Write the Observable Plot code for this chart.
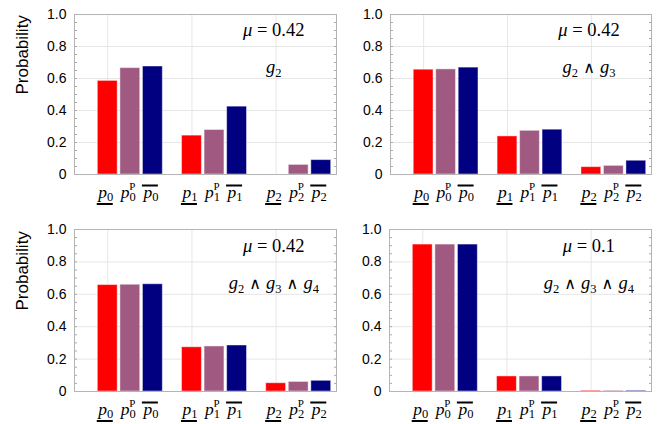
<!DOCTYPE html>
<html>
<head>
<meta charset="utf-8">
<script src="https://cdn.jsdelivr.net/npm/d3@7"></script>
<script src="https://cdn.jsdelivr.net/npm/@observablehq/plot@0.6"></script>
<style>
  body { margin: 0; background: #fff; }
  #chart { position: relative; width: 657px; height: 424px; overflow: hidden; }
</style>
</head>
<body>
<div id="chart"></div>
<script>
// ---------- data ----------
const groups = ["0", "1", "2"];                 // subscript of p
const seriesKeys = ["lower", "P", "upper"];     // p_, p^P, p‾
const seriesColors = ["#ff0000", "#a05a82", "#000080"];
const muLabels = ["0.42", "0.42", "0.42", "0.1"];
const constraintLabels = [["2"], ["2", "3"], ["2", "3", "4"], ["2", "3", "4"]];
const yTicks = [0, 0.2, 0.4, 0.6, 0.8, 1.0];
const yTickLabels = ["0", "0.2", "0.4", "0.6", "0.8", "1.0"];
const yLabel = "Probability";

// panel A: mu = 0.42, g2
const panelA_lower = [0.585, 0.243, 0];
const panelA_P     = [0.665, 0.278, 0.060];
const panelA_upper = [0.675, 0.424, 0.090];
// panel B: mu = 0.42, g2 ∧ g3
const panelB_lower = [0.655, 0.238, 0.046];
const panelB_P     = [0.657, 0.273, 0.054];
const panelB_upper = [0.668, 0.280, 0.086];
// panel C: mu = 0.42, g2 ∧ g3 ∧ g4
const panelC_lower = [0.657, 0.273, 0.051];
const panelC_P     = [0.659, 0.278, 0.059];
const panelC_upper = [0.662, 0.284, 0.066];
// panel D: mu = 0.1, g2 ∧ g3 ∧ g4
const panelD_lower = [0.907, 0.093, 0.004];
const panelD_P     = [0.907, 0.093, 0.004];
const panelD_upper = [0.907, 0.093, 0.004];

// ---------- layout ----------
const X_DOMAIN = [-0.277, 2.835];
const BAR_STEP = 0.268, BAR_W = 0.236;
const ANN_X = 2.09;
const SERIF = "Liberation Serif";
const SANS = "Liberation Sans";

const panels = [
  {vals: [panelA_lower, panelA_P, panelA_upper], mu: muLabels[0], cons: constraintLabels[0],
   left: 0, top: 0, width: 338, height: 212, mL: 74, mR: 2, mT: 14, mB: 38, ylab: true},
  {vals: [panelB_lower, panelB_P, panelB_upper], mu: muLabels[1], cons: constraintLabels[1],
   left: 338, top: 0, width: 319, height: 212, mL: 52, mR: 6, mT: 14, mB: 38, ylab: false},
  {vals: [panelC_lower, panelC_P, panelC_upper], mu: muLabels[2], cons: constraintLabels[2],
   left: 0, top: 212, width: 338, height: 212, mL: 74, mR: 2, mT: 17, mB: 33, ylab: true},
  {vals: [panelD_lower, panelD_P, panelD_upper], mu: muLabels[3], cons: constraintLabels[3],
   left: 338, top: 212, width: 319, height: 212, mL: 51, mR: 6, mT: 17, mB: 33, ylab: false}
];

function setRich(el, parts, subShift = 4) {
  const t = d3.select(el);
  t.text(null);
  let shift = 0;
  for (const p of parts) {
    const ts = t.append("tspan").text(p.t);
    const target = p.sub ? subShift : p.sup ? -8 : 0;
    if (target !== shift) ts.attr("dy", target - shift);
    shift = target;
    if (p.sub || p.sup) ts.attr("font-size", p.sup ? 11 : 12.5).attr("font-style", "normal");
    if (p.it) ts.attr("font-style", "italic");
    if (p.dx) ts.attr("dx", p.dx);
    if (p.op) ts.attr("font-family", "DejaVu Sans").attr("font-size", 16);
  }
}

const chart = document.getElementById("chart");

for (const P of panels) {
  const data = [];
  groups.forEach((g, gi) => seriesKeys.forEach((s, si) =>
    data.push({g, gi, s, si, v: P.vals[si][gi]})));
  const x0 = d => d.gi + d.si * BAR_STEP;

  const marks = [
    Plot.ruleY(yTicks.slice(1, -1), {stroke: "#e6e6e6"}),
    Plot.ruleX(groups.map((g, gi) => gi + BAR_W / 2), {stroke: "#e6e6e6"}),
    Plot.rect(data, {x1: x0, x2: d => x0(d) + BAR_W, y1: 0, y2: "v", fill: "s",
                     stroke: "white", strokeOpacity: 0.45, strokeWidth: 1}),
    Plot.axisY(d3.range(0, 1.0001, 0.05), {anchor: "left", tickSize: -3, tickFormat: () => "", label: null, stroke: "#aaa"}),
    Plot.axisY(d3.range(0, 1.0001, 0.05), {anchor: "right", tickSize: -3, tickFormat: () => "", label: null, stroke: "#aaa"}),
    Plot.axisY(yTicks, {anchor: "left", tickSize: 0, tickPadding: 8, label: null,
                        tickFormat: d => yTickLabels[yTicks.indexOf(d)], fontSize: 14}),
    Plot.frame({stroke: "#b4b4b4"}),
    Plot.text(data, {x: d => x0(d) + BAR_W / 2, y: 0, dy: 23, dx: -2, lineAnchor: "bottom",
                     text: d => "p" + d.g + d.s, fontFamily: SERIF, fontSize: 17.5}),
    Plot.text([P.mu], {x: ANN_X, y: 0.9, text: d => "μ = " + d, fontFamily: SERIF, fontSize: 18.5}),
    Plot.text([P.cons], {x: ANN_X, y: 0.67, text: d => d.join(","), fontFamily: SERIF, fontSize: 18.5})
  ];
  if (P.ylab) marks.push(Plot.text([yLabel], {frameAnchor: "left", dx: -52, rotate: -90, text: d => d,
                                               fontFamily: SANS, fontSize: 17}));

  const svg = Plot.plot({
    width: P.width, height: P.height,
    marginLeft: P.mL, marginRight: P.mR, marginTop: P.mT, marginBottom: P.mB,
    x: {domain: X_DOMAIN, axis: null},
    y: {domain: [0, 1], axis: null},
    color: {domain: seriesKeys, range: seriesColors},
    style: {position: "absolute", left: P.left + "px", top: P.top + "px", background: "transparent",
            fontFamily: SANS, fontSize: "14px", overflow: "visible", maxWidth: "none"},
    marks
  });
  chart.appendChild(svg);

  const textGroups = d3.select(svg).selectAll('g[aria-label="text"]').nodes();
  const [gBars, gMu, gCons] = textGroups;

  // rich text: bar labels
  d3.select(gBars).selectAll("text").each(function (_, i) {
    const d = data[i];
    const parts = [{t: "p", it: true}, {t: d.g, sub: true}];
    if (d.s === "P") parts.push({t: "P", sup: true, dx: -6.5});
    setRich(this, parts, 3);
    if (d.s !== "P") {
      const bb = this.getBBox();
      const pos = this.getStartPositionOfChar(0);
      const yl = d.s === "lower" ? pos.y + 6.5 : pos.y - 12;
      d3.select(this.parentNode).append("line")
        .attr("x1", bb.x + 0.5).attr("x2", bb.x + bb.width - 0.5)
        .attr("y1", yl).attr("y2", yl)
        .attr("stroke", "black").attr("stroke-width", 2)
        .attr("transform", this.getAttribute("transform"));
    }
  });
  d3.select(gMu).selectAll("text").each(function () {
    setRich(this, [{t: "μ", it: true}, {t: " = " + P.mu}]);
  });
  d3.select(gCons).selectAll("text").each(function () {
    const parts = [];
    P.cons.forEach((c, k) => {
      if (k > 0) parts.push({t: " ∧ ", op: true});
      parts.push({t: "g", it: true}, {t: c, sub: true});
    });
    setRich(this, parts);
  });
}
</script>
</body>
</html>
